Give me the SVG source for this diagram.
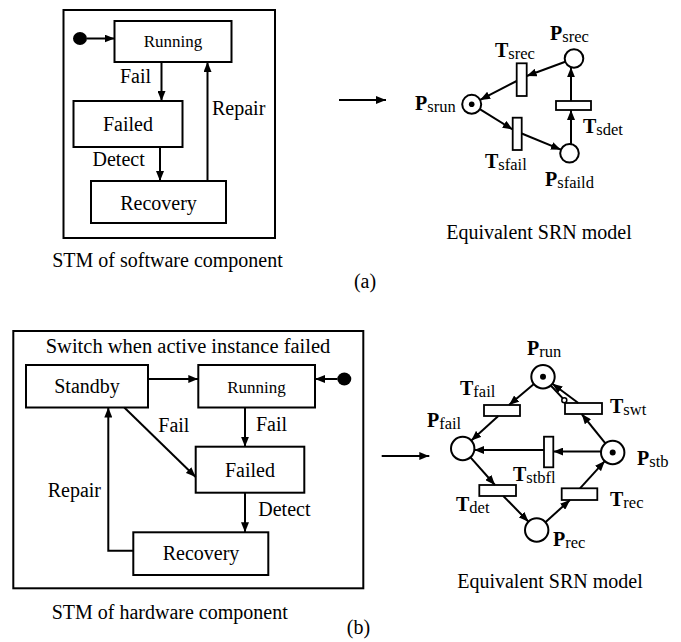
<svg xmlns="http://www.w3.org/2000/svg" width="681" height="642" viewBox="0 0 681 642" font-family="'Liberation Serif', 'DejaVu Serif', serif">
<style>
text, tspan{font-family:'Liberation Serif', 'DejaVu Serif', serif;fill:#000}
.t{font-size:20px}
.r{font-size:17px}
.c{text-anchor:middle}
.box{fill:#fff;stroke:#000;stroke-width:2}
.frame{fill:none;stroke:#000;stroke-width:2}
.ln{fill:none;stroke:#000;stroke-width:2}
.pl{fill:#fff;stroke:#000;stroke-width:2}
.tr{fill:#fff;stroke:#000;stroke-width:1.8}
.m{font-size:20px;font-weight:bold}
.s{font-size:16.5px}
</style>
<defs>
<marker id="ah" markerWidth="10" markerHeight="8" refX="10" refY="4" orient="auto" markerUnits="userSpaceOnUse"><path d="M0,0 L10,4 L0,8 z" fill="#000"/></marker>
</defs>
<rect x="0" y="0" width="681" height="642" fill="#fff"/>

<!-- (a) STM of software component -->
<g id="stm-sw">
<rect class="frame" x="63.5" y="10" width="211.5" height="228"/>
<g id="sw-running"><rect class="box" x="114.5" y="21" width="117" height="41"/><text class="r c" x="173" y="47">Running</text></g>
<g id="sw-failed"><rect class="box" x="73.5" y="101" width="109" height="46"/><text class="t c" x="128" y="131">Failed</text></g>
<g id="sw-recovery"><rect class="box" x="91" y="181" width="135" height="42"/><text class="t c" x="158.5" y="210">Recovery</text></g>
<g id="sw-init"><ellipse cx="80" cy="38.5" rx="7" ry="6.5" fill="#000"/></g>
</g>

<g id="sw-connectors">
<path class="ln" d="M87,38.5 L114.5,38.5" marker-end="url(#ah)"/>
<path class="ln" d="M161.5,62 L161.5,101" marker-end="url(#ah)"/>
<path class="ln" d="M160,147 L160,181" marker-end="url(#ah)"/>
<path class="ln" d="M207.5,181 L207.5,62" marker-end="url(#ah)"/>
<text class="t" x="120" y="83">Fail</text>
<text class="t" x="92.5" y="166">Detect</text>
<text class="t" x="212" y="115">Repair</text>
<path class="ln" d="M339,100 L386,100" marker-end="url(#ah)"/>
</g>

<text class="t c" x="167.5" y="267">STM of software component</text>
<text class="t c" x="365" y="288">(a)</text>

<!-- (a) SRN -->
<g id="p-srun"><circle class="pl" cx="471.7" cy="104.3" r="9.5"/><circle cx="471.7" cy="104.3" r="2.8" fill="#000"/>
<text x="415" y="110"><tspan class="m">P</tspan><tspan class="s" dy="2">srun</tspan></text></g>
<g id="p-srec"><circle class="pl" cx="574" cy="58.5" r="9.3"/>
<text x="550" y="40"><tspan class="m">P</tspan><tspan class="s" dy="2">srec</tspan></text></g>
<g id="p-sfaild"><circle class="pl" cx="569.5" cy="153.3" r="9.3"/>
<text x="545" y="186"><tspan class="m">P</tspan><tspan class="s" dy="2">sfaild</tspan></text></g>
<g id="t-srec"><rect class="tr" x="516.7" y="63.3" width="10" height="32.7"/>
<text x="495" y="57"><tspan class="m">T</tspan><tspan class="s" dy="2">srec</tspan></text></g>
<g id="t-sfail"><rect class="tr" x="512.7" y="117.7" width="9" height="32.3"/>
<text x="485" y="168"><tspan class="m">T</tspan><tspan class="s" dy="2">sfail</tspan></text></g>
<g id="t-sdet"><rect class="tr" x="556" y="101" width="35" height="9"/>
<text x="583" y="133"><tspan class="m">T</tspan><tspan class="s" dy="2">sdet</tspan></text></g>

<g id="srn-a-connectors">
<path class="ln" d="M565.3,61.7 L526.7,76" marker-end="url(#ah)"/>
<path class="ln" d="M516.7,81 L480.1,99.9" marker-end="url(#ah)"/>
<path class="ln" d="M479.8,109.2 L512.7,129.5" marker-end="url(#ah)"/>
<path class="ln" d="M521.7,133.5 L560.9,149.7" marker-end="url(#ah)"/>
<path class="ln" d="M571,144.3 L571,110" marker-end="url(#ah)"/>
<path class="ln" d="M571,101 L571,67.3" marker-end="url(#ah)"/>
</g>
<text class="t c" x="539" y="239">Equivalent SRN model</text>

<!-- (b) STM of hardware component -->
<g id="stm-hw">
<rect class="frame" x="13.3" y="331" width="350" height="257.3"/>
<text class="c" x="188" y="353" style="font-size:20.5px">Switch when active instance failed</text>
<g id="hw-standby"><rect class="box" x="26" y="365" width="122" height="42.5"/><text class="t c" x="87" y="393">Standby</text></g>
<g id="hw-running"><rect class="box" x="198.3" y="365" width="116.7" height="42.5"/><text class="r c" x="256.5" y="393">Running</text></g>
<g id="hw-failed"><rect class="box" x="195.7" y="446.7" width="108.6" height="46"/><text class="t c" x="250" y="477">Failed</text></g>
<g id="hw-recovery"><rect class="box" x="133.3" y="532.3" width="135" height="42.7"/><text class="t c" x="201" y="560">Recovery</text></g>
<g id="hw-init"><ellipse cx="344.3" cy="379" rx="7" ry="6.5" fill="#000"/></g>
</g>

<g id="hw-connectors">
<path class="ln" d="M148,379 L198.3,379" marker-end="url(#ah)"/>
<path class="ln" d="M337.5,379 L315,379" marker-end="url(#ah)"/>
<path class="ln" d="M245,407.5 L245,446.7" marker-end="url(#ah)"/>
<path class="ln" d="M124.3,407.5 L195.7,477" marker-end="url(#ah)"/>
<path class="ln" d="M245,492.7 L245,532.3" marker-end="url(#ah)"/>
<path class="ln" d="M133.3,550.7 L108.3,550.7 L108.3,407.5" marker-end="url(#ah)"/>
<text class="t" x="256" y="431">Fail</text>
<text class="t" x="158.3" y="431.7">Fail</text>
<text class="t" x="258.3" y="516">Detect</text>
<text class="t" x="47.7" y="497">Repair</text>
<path class="ln" d="M381.7,456 L429.3,456" marker-end="url(#ah)"/>
</g>

<text class="t c" x="169.7" y="619">STM of hardware component</text>
<text class="t c" x="358.5" y="634">(b)</text>

<!-- (b) SRN -->
<g id="p-run"><circle class="pl" cx="543" cy="376.7" r="11.7"/><circle cx="543" cy="376.7" r="3" fill="#000"/>
<text x="527" y="355"><tspan class="m">P</tspan><tspan class="s" dy="2">run</tspan></text></g>
<g id="p-fail"><circle class="pl" cx="462.7" cy="448.5" r="11.7"/>
<text x="427" y="427"><tspan class="m">P</tspan><tspan class="s" dy="2">fail</tspan></text></g>
<g id="p-stb"><circle class="pl" cx="612.7" cy="452.5" r="11.7"/><circle cx="612.7" cy="452.5" r="3" fill="#000"/>
<text x="637" y="465"><tspan class="m">P</tspan><tspan class="s" dy="2">stb</tspan></text></g>
<g id="p-rec"><circle class="pl" cx="536.7" cy="530" r="11.7"/>
<text x="553" y="546"><tspan class="m">P</tspan><tspan class="s" dy="2">rec</tspan></text></g>
<g id="t-fail"><rect class="tr" x="484" y="405" width="36" height="11"/>
<text x="460" y="395"><tspan class="m">T</tspan><tspan class="s" dy="2">fail</tspan></text></g>
<g id="t-swt"><rect class="tr" x="565" y="403" width="37" height="11"/>
<text x="610" y="413"><tspan class="m">T</tspan><tspan class="s" dy="2">swt</tspan></text></g>
<g id="t-stbfl"><rect class="tr" x="544" y="436.7" width="9.3" height="30.6"/>
<text x="513" y="481"><tspan class="m">T</tspan><tspan class="s" dy="2">stbfl</tspan></text></g>
<g id="t-det"><rect class="tr" x="479.3" y="485" width="36.7" height="11"/>
<text x="456" y="511"><tspan class="m">T</tspan><tspan class="s" dy="2">det</tspan></text></g>
<g id="t-rec"><rect class="tr" x="561.7" y="488.3" width="35.6" height="11.7"/>
<text x="610" y="506"><tspan class="m">T</tspan><tspan class="s" dy="2">rec</tspan></text></g>

<g id="srn-b-connectors">
<path class="ln" d="M533.9,384.1 L509,405" marker-end="url(#ah)"/>
<path class="ln" d="M498.3,416 L471.3,440.6" marker-end="url(#ah)"/>
<path class="ln" d="M470.5,457.3 L495,485" marker-end="url(#ah)"/>
<path class="ln" d="M503.3,496 L528.5,521.7" marker-end="url(#ah)"/>
<path class="ln" d="M545.4,522.2 L570,500" marker-end="url(#ah)"/>
<path class="ln" d="M580,488.3 L604.8,461.1" marker-end="url(#ah)"/>
<path class="ln" d="M605.4,443.4 L581.7,414" marker-end="url(#ah)"/>
<path class="ln" d="M578.3,403 L552.4,383.7" marker-end="url(#ah)"/>
<path class="ln" d="M550.8,385.5 L562.6,398.1"/>
<circle cx="564.3" cy="400.3" r="2.5" fill="#fff" stroke="#000" stroke-width="1.5"/>
<path class="ln" d="M601,451.5 L553.3,451.5" marker-end="url(#ah)"/>
<path class="ln" d="M544,450 L474.3,450" marker-end="url(#ah)"/>
</g>
<text class="t c" x="550" y="588">Equivalent SRN model</text>
</svg>
